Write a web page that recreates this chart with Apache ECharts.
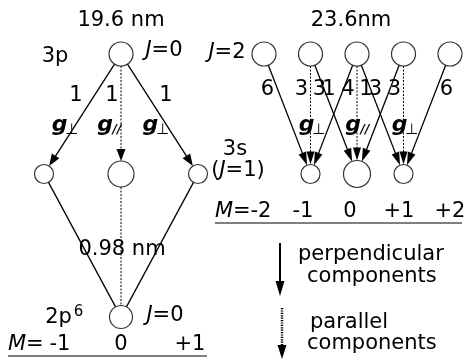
<!DOCTYPE html>
<html><head><meta charset="utf-8">
<script src="https://cdn.jsdelivr.net/npm/echarts@6/dist/echarts.min.js"></script>
<style>html,body{margin:0;padding:0;background:#fff}#c{width:465px;height:360px}</style>
</head><body><div id="c"></div>
<script>
// ---------------- data ----------------
// schematic level heights: 0 = upper (3p), 1 = middle (3s), 2 = ground (2p6)
const levelHeight = [10, 4, -3.15];
// left diagram (19.6 nm, J=0 -> J=1 -> J=0)
const leftUpperM = [0];
const leftMiddleM = [-1, 0, 1];
const leftGroundM = [0];
const leftFrom = [0, 0, 0];
const leftTo = [-1, 0, 1];
const leftWeight = [1, 1, 1];
const decayFrom = [-1, 0, 1];
const decayTo = [0, 0, 0];
// right diagram (23.6 nm, J=2 -> J=1)
const rightUpperM = [-2, -1, 0, 1, 2];
const rightLowerM = [-1, 0, 1];
const rightFrom = [-2, -1, -1, 0, 0, 0, 1, 1, 2];
const rightTo = [-1, -1, 0, -1, 0, 1, 0, 1, 1];
const rightWeight = [6, 3, 3, 1, 4, 1, 3, 3, 6];
// tick labels
const leftMTicks = ['-1', '0', '+1'];
const rightMTicks = ['-2', '-1', '0', '+1', '+2'];
const wavelengths = ['19.6 nm', '23.6nm', '0.98 nm'];

// ---------------- styles / layout ----------------
const F = '"DejaVu Sans", sans-serif';
const FS = 21;
function nodeSize(side, level, M) {
  if (side === 'L') {
    if (level === 1) return M === 0 ? 26 : 19;
    return level === 0 ? 24 : 23;
  }
  return level === 0 ? 24 : (M === 0 ? 27 : 19);
}

function transitionData(from, to, weight, fl, tl) {
  return from.map((f, i) => [f, levelHeight[fl], to[i], levelHeight[tl], weight ? weight[i] : 0, fl, tl]);
}
const leftTransitions = transitionData(leftFrom, leftTo, leftWeight, 0, 1)
  .concat(transitionData(decayFrom, decayTo, null, 1, 2));
const rightTransitions = transitionData(rightFrom, rightTo, rightWeight, 0, 1);

function gLabel(cx, cy, sub) {
  return [
    { type: 'text', x: cx - 4, y: cy, style: { text: 'g', fontSize: 22, fontFamily: F, fontWeight: 'bold', fontStyle: 'italic', fill: '#000', align: 'center', verticalAlign: 'middle' } },
    { type: 'text', x: cx + 8, y: cy + 5, style: { text: sub, fontSize: sub === '//' ? 12 : 15, fontFamily: F, fontWeight: sub === '//' ? 'bold' : 'normal', fontStyle: sub === '//' ? 'italic' : 'normal', fill: '#000', align: 'center', verticalAlign: 'middle' } }
  ];
}

function weightOffset(side, fM, tM, dx, maxM) {
  if (side === 'L') return fM === tM ? -9 : Math.sign(dx) * 18;
  if (Math.abs(fM) === maxM) return Math.sign(fM) * 10.5;
  if (fM === tM) return -9;
  return tM > fM ? -5 : -14;
}

function makeRender(side, maxM) {
  return function (params, api) {
    const fM = api.value(0), fY = api.value(1), tM = api.value(2), tY = api.value(3);
    const w = api.value(4), fl = api.value(5), tl = api.value(6);
    const p1 = api.coord([fM, fY]), p2 = api.coord([tM, tY]);
    const dx = p2[0] - p1[0], dy = p2[1] - p1[1];
    const len = Math.hypot(dx, dy), ux = dx / len, uy = dy / len;
    const r1 = nodeSize(side, fl, fM) / 2, r2 = nodeSize(side, tl, tM) / 2;
    const s = [p1[0] + ux * r1, p1[1] + uy * r1];
    const e = [p2[0] - ux * r2, p2[1] - uy * r2];
    const parallel = fM === tM;
    const arrow = tl !== 2;
    const L = side === 'L' ? 12 : 13, W = side === 'L' ? 4.5 : 4;
    const le = arrow ? [e[0] - ux * (L - 2), e[1] - uy * (L - 2)] : e;
    const children = [{
      type: 'line', shape: { x1: s[0], y1: s[1], x2: le[0], y2: le[1] },
      style: { stroke: '#000', lineWidth: parallel ? 1 : 1.3, lineDash: parallel ? [2, 1.5] : null }
    }];
    if (arrow) {
      const bx = e[0] - ux * L, by = e[1] - uy * L, nx = -uy, ny = ux;
      children.push({ type: 'polygon', shape: { points: [e, [bx + nx * W, by + ny * W], [bx - nx * W, by - ny * W]] }, style: { fill: '#000' } });
    }
    if (w) {
      const t = side === 'L' ? 0.35 : 0.3;
      const off = weightOffset(side, fM, tM, dx, maxM);
      children.push({ type: 'text', x: p1[0] + t * dx + off, y: p1[1] + t * dy, style: { text: String(w), fontSize: FS, fontFamily: F, fill: '#000', align: 'center', verticalAlign: 'middle' } });
    }
    if (arrow) {
      const sub = tM === 0 ? '//' : '\u22A5';
      const t = 0.59;
      if (side === 'L') children.push(...gLabel(p1[0] + t * dx - 12, p1[1] + t * dy, sub));
      else if (parallel) children.push(...gLabel(p1[0] + t * dx, p1[1] + t * dy, sub));
    }
    return { type: 'group', children };
  };
}

function nodes(Ms, level) { return Ms.map(m => [m, levelHeight[level], level]); }
const leftNodes = nodes(leftUpperM, 0).concat(nodes(leftMiddleM, 1), nodes(leftGroundM, 2));
const rightNodes = nodes(rightUpperM, 0).concat(nodes(rightLowerM, 1));

function txt(x, y, text, o) {
  return { type: 'text', x, y, silent: true, z: 10,
    style: Object.assign({ text, fontSize: FS, fontFamily: F, fill: '#000', align: 'center', verticalAlign: 'middle' }, o || {}) };
}
const italicRich = { i: { fontStyle: 'italic', fontSize: FS, fontFamily: F } };

const graphics = [
  txt(121, 21, wavelengths[0]),
  txt(351, 21, wavelengths[1]),
  txt(122, 250, wavelengths[2]),
  txt(55, 57, '3p'),
  txt(164, 51, '{i|J}=0', { rich: italicRich }),
  txt(227, 53, '{i|J}=2', { rich: italicRich }),
  txt(235, 150, '3s'),
  txt(238, 171, '({i|J}=1)', { rich: italicRich }),
  txt(58.5, 318, '2p'),
  txt(78.5, 312, '6', { fontSize: 15 }),
  txt(165, 316, '{i|J}=0', { rich: italicRich }),
  txt(8, 345, '{i|M}=', { align: 'left', rich: italicRich }),
  txt(215, 212, '{i|M}=', { align: 'left', rich: italicRich }),
  { type: 'line', silent: true, shape: { x1: 8, y1: 356, x2: 207, y2: 356 }, style: { stroke: '#000', lineWidth: 1.2 } },
  { type: 'line', silent: true, shape: { x1: 215, y1: 223, x2: 462, y2: 223 }, style: { stroke: '#000', lineWidth: 1.2 } },
  // key
  { type: 'line', silent: true, shape: { x1: 280, y1: 243, x2: 280, y2: 284 }, style: { stroke: '#000', lineWidth: 2 } },
  { type: 'polygon', silent: true, shape: { points: [[280, 296], [275.5, 281], [284.5, 281]] }, style: { fill: '#000' } },
  { type: 'line', silent: true, shape: { x1: 282, y1: 308, x2: 282, y2: 347 }, style: { stroke: '#000', lineWidth: 2.5, lineDash: [1.2, 1.2] } },
  { type: 'polygon', silent: true, shape: { points: [[282, 359], [277.5, 345], [286.5, 345]] }, style: { fill: '#000' } },
  txt(298, 255, 'perpendicular', { align: 'left' }),
  txt(307, 277, 'components', { align: 'left' }),
  txt(310, 323, 'parallel', { align: 'left' }),
  txt(307, 344, 'components', { align: 'left' })
];
const leftTickX = [60, 121, 190];
const rightTickX = [261, 303, 350, 399, 450];
leftMTicks.forEach((t, i) => graphics.push(txt(leftTickX[i], 345, t)));
rightMTicks.forEach((t, i) => graphics.push(txt(rightTickX[i], 212, t)));

const chart = echarts.init(document.getElementById('c'), null, { renderer: 'canvas' });
chart.setOption({
  animation: false,
  backgroundColor: '#fff',
  grid: [
    { left: 44, right: 267, top: 54, bottom: 43 },
    { left: 264, right: 15, top: 54, bottom: 186 }
  ],
  xAxis: [
    { type: 'value', gridIndex: 0, min: -1, max: 1, show: false },
    { type: 'value', gridIndex: 1, min: -2, max: 2, show: false }
  ],
  yAxis: [
    { type: 'value', gridIndex: 0, min: levelHeight[2], max: levelHeight[0], show: false },
    { type: 'value', gridIndex: 1, min: levelHeight[1], max: levelHeight[0], show: false }
  ],
  series: [
    { type: 'custom', name: 'left transitions', xAxisIndex: 0, yAxisIndex: 0, clip: false, z: 2, silent: true,
      renderItem: makeRender('L', 1), data: leftTransitions, encode: { x: [0, 2], y: [1, 3] } },
    { type: 'custom', name: 'right transitions', xAxisIndex: 1, yAxisIndex: 1, clip: false, z: 2, silent: true,
      renderItem: makeRender('R', 2), data: rightTransitions, encode: { x: [0, 2], y: [1, 3] } },
    { type: 'scatter', name: 'left states', xAxisIndex: 0, yAxisIndex: 0, clip: false, z: 5, silent: true,
      symbol: 'circle', symbolSize: v => nodeSize('L', v[2], v[0]),
      itemStyle: { color: '#fff', borderColor: '#000', borderWidth: 1.2 }, data: leftNodes },
    { type: 'scatter', name: 'right states', xAxisIndex: 1, yAxisIndex: 1, clip: false, z: 5, silent: true,
      symbol: 'circle', symbolSize: v => nodeSize('R', v[2], v[0]),
      itemStyle: { color: '#fff', borderColor: '#000', borderWidth: 1.2 }, data: rightNodes }
  ],
  graphic: graphics
});
</script></body></html>
